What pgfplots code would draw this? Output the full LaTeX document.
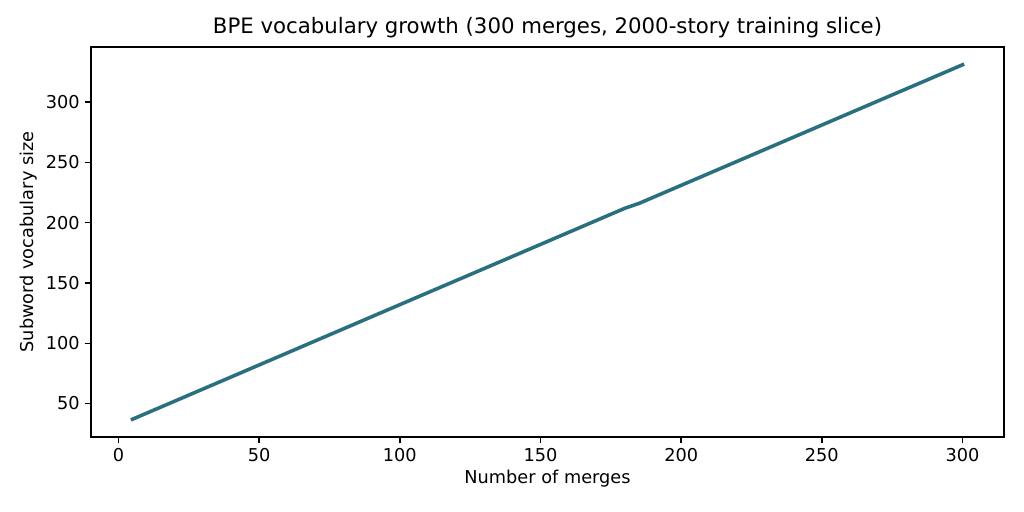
\documentclass[border=0pt]{standalone}
\usepackage{fontspec}
\setmainfont{DejaVu Sans}
\usepackage{pgfplots}
\pgfplotsset{compat=1.18}
\definecolor{linecol}{RGB}{40,112,128}
\begin{document}
\begin{tikzpicture}
\path[use as bounding box] (-64.2pt,-52.9pt) rectangle (658.1pt,308.2pt);
\begin{axis}[
    at={(0,0)}, anchor=south west,
    width=644pt, height=275pt, scale only axis,
    xmin=-9.75, xmax=314.75,
    ymin=22.3, ymax=345.7,
    xtick={0,50,...,300},
    ytick={50,100,...,300},
    tick align=outside,
    xtick pos=bottom, ytick pos=left,
    major tick length=4.4pt,
    tick style={black, line width=1pt},
    axis line style={line width=1pt},
    ticklabel style={font=\fontsize{12.5}{15}\selectfont},
    /pgf/number format/assume math mode=true,
    xlabel={Number of merges},
    ylabel={Subword vocabulary size},
    label style={font=\fontsize{12.5}{15}\selectfont},
    xlabel style={yshift=1pt},
    ylabel style={yshift=-1pt},
    title={BPE vocabulary growth (300 merges, 2000-story training slice)},
    title style={font=\fontsize{15}{18}\selectfont, yshift=-3pt},
]
\addplot[linecol, line width=2.5pt, line cap=rect, no marks] coordinates {
    (5,37) (180,212) (185,216) (300,331)
};
\end{axis}
\end{tikzpicture}
\end{document}
